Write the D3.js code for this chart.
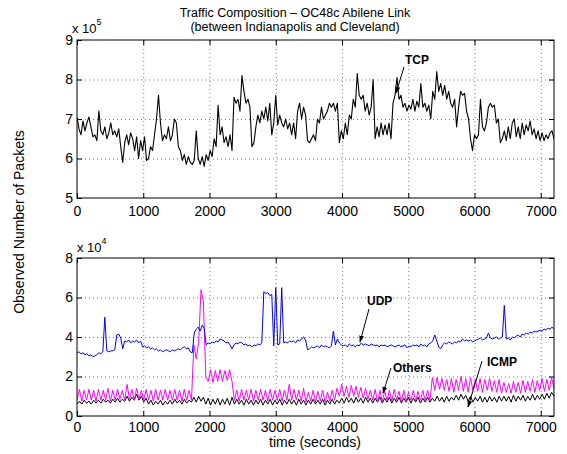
<!DOCTYPE html>
<html><head><meta charset="utf-8">
<script src="https://cdn.jsdelivr.net/npm/d3@7"></script>
<style>
body{margin:0;background:#fff;}
svg{font-family:"Liberation Sans",Arial,Helvetica,sans-serif;}
</style></head>
<body><svg id="c" width="567" height="454"></svg>
<script>
// ---------- data ----------
const xTicks = [0,1000,2000,3000,4000,5000,6000,7000];
const tcpTicks = [5,6,7,8,9];
const lowTicks = [0,2,4,6,8];
const tcpStep = 30;   // seconds between TCP samples (x 1e5 packets)
const tcp = [
7.05,6.75,6.6,6.95,6.7,6.9,7.05,6.8,6.55,6.6,
6.45,7.2,6.7,6.6,6.8,6.5,6.65,6.9,6.6,6.7,
6.55,6.75,6.3,5.9,6.4,6.6,6.35,6.65,6.5,6.2,
6.55,6.0,6.45,6.2,6.55,5.95,6.0,6.3,6.2,6.6,
7.0,7.6,6.9,6.45,6.6,6.5,6.8,6.45,6.6,7.0,
6.9,6.3,6.2,5.95,6.1,5.85,6.05,5.9,5.85,5.95,
6.7,6.0,5.85,6.05,5.8,6.1,5.95,6.2,6.05,6.5,
6.3,7.35,6.6,6.8,6.4,6.55,6.3,6.6,6.2,7.55,
7.4,7.5,7.2,8.1,7.7,7.4,7.5,7.3,6.3,6.4,
6.8,7.1,6.9,7.2,7.0,7.3,6.95,7.4,6.6,6.9,
7.6,6.85,7.1,6.9,6.8,7.0,6.75,6.9,6.6,6.9,
6.5,7.2,7.4,7.0,7.3,7.1,6.45,6.4,6.5,6.6,
6.45,7.0,6.9,7.3,7.0,7.1,7.2,7.4,7.3,7.4,
7.2,7.4,6.4,6.7,6.5,6.9,6.6,7.1,7.0,7.5,
7.3,8.15,7.6,7.5,7.6,7.2,7.4,7.1,7.3,8.0,
6.5,6.8,6.55,6.9,6.6,6.85,6.6,6.9,6.5,7.4,
7.6,8.05,7.5,7.6,7.3,7.4,7.2,7.35,7.25,7.5,
7.2,7.45,7.3,7.9,7.3,7.4,7.2,7.35,7.0,7.7,
7.5,8.2,7.7,7.9,7.6,7.85,7.5,7.7,7.4,7.3,
7.5,6.8,7.3,7.7,7.6,7.65,7.2,7.0,6.5,6.2,
6.6,6.5,6.6,7.5,6.8,6.7,6.9,7.3,7.4,7.3,
7.35,6.9,7.0,6.4,6.5,6.7,6.45,6.8,6.5,6.9,
7.0,6.55,6.8,6.5,6.9,6.6,6.85,6.7,6.95,6.6,
6.75,6.5,6.7,6.45,6.65,6.45,6.6,6.5,6.65,6.7,
6.5];
const udpStep = 30;   // x 1e4 packets
const udp = [
3.2,3.25,3.15,3.2,3.1,3.15,3.05,3.1,3.0,3.05,
3.1,3.2,3.15,3.25,5.0,3.3,3.25,3.3,3.3,3.35,
4.1,4.15,3.95,3.4,3.8,3.75,3.85,3.7,3.8,3.75,
3.85,3.7,3.8,3.5,3.55,3.45,3.5,3.4,3.45,3.35,
3.4,3.3,3.35,3.25,3.3,3.35,3.3,3.25,3.35,3.3,
3.35,3.4,3.35,3.45,3.5,3.4,3.45,3.25,3.2,4.2,
4.4,4.5,4.3,4.6,4.45,3.6,3.7,3.65,3.75,3.7,
3.8,3.75,3.9,3.85,3.8,3.7,3.75,3.6,3.4,3.6,
3.7,3.65,3.75,3.7,3.6,3.65,3.55,3.6,3.5,3.6,
3.55,3.65,3.6,3.7,6.3,6.2,6.25,6.1,6.15,3.55,
6.5,3.6,3.65,6.5,3.7,3.75,3.7,3.8,3.75,3.8,
3.7,3.85,3.8,3.9,4.0,3.85,3.35,3.4,3.5,3.45,
3.5,3.55,3.45,3.6,3.5,3.55,3.5,3.45,3.55,4.3,
3.6,3.9,3.7,3.6,3.55,3.6,3.5,3.65,3.55,3.6,
3.5,3.6,3.55,3.7,3.6,3.65,3.6,3.55,3.65,3.6,
3.55,3.6,3.5,3.6,3.55,3.6,3.5,3.55,3.6,3.55,
3.5,3.55,3.6,3.5,3.55,3.6,3.45,3.55,3.5,3.6,
3.55,3.6,3.5,3.65,3.55,3.6,3.5,3.65,3.7,3.8,
4.1,3.8,3.5,3.4,3.6,3.7,3.65,3.75,3.7,3.65,
3.75,3.7,3.8,3.75,3.9,3.8,3.85,3.8,3.85,3.75,
3.8,3.85,3.9,3.95,3.85,3.9,3.95,4.2,3.95,3.9,
3.95,4.0,3.9,3.95,4.0,5.6,3.9,3.95,3.85,4.0,
3.95,4.05,4.1,4.0,4.15,4.1,4.2,4.15,4.25,4.2,
4.3,4.25,4.3,4.35,4.3,4.4,4.35,4.45,4.4,4.5,
4.4];
const othStep = 36;   // x 1e4 packets
const others = [
0.8,1.35,0.75,1.3,0.8,1.35,0.8,1.3,0.75,1.35,
0.8,1.3,0.8,1.4,0.75,1.3,0.8,1.35,0.85,1.3,
0.8,1.6,0.85,1.35,0.8,1.4,0.85,1.3,0.8,1.35,
0.8,1.3,0.75,1.35,0.8,1.3,0.8,1.35,0.8,1.3,
0.8,1.35,0.8,1.3,0.75,1.35,0.8,1.3,0.8,3.6,
2.9,3.7,6.4,5.8,2.0,1.75,2.35,1.7,2.3,1.75,
2.35,1.75,2.3,1.8,2.35,1.75,0.8,1.3,0.75,1.35,
0.8,1.3,0.8,1.35,0.75,1.3,0.8,1.35,0.8,1.3,
0.75,1.35,0.8,1.3,0.8,1.35,0.75,1.3,0.8,1.6,
0.8,1.35,0.8,1.3,0.75,1.4,0.7,1.2,0.75,1.3,
0.7,1.25,0.75,1.3,0.7,1.2,0.75,1.3,0.8,1.4,
1.0,1.6,1.0,1.5,0.95,1.55,1.0,1.5,0.95,1.45,
0.9,1.4,0.85,1.3,0.8,1.35,0.7,1.3,0.75,1.25,
0.8,1.3,0.75,1.35,0.8,1.25,0.7,1.3,0.75,1.2,
0.8,1.3,0.75,1.25,0.8,1.3,0.75,1.3,0.8,1.95,
1.3,1.95,1.35,1.9,1.3,1.85,1.25,1.9,1.2,1.85,
1.3,2.0,1.25,1.9,1.2,1.95,1.3,1.85,1.25,1.9,
1.2,1.85,1.3,1.9,1.25,1.8,1.2,1.85,1.15,1.7,
1.2,1.65,1.15,1.75,1.2,1.7,1.15,1.8,1.2,1.75,
1.25,1.85,1.2,1.8,1.3,1.9,1.25,1.85,1.3,1.95,
1.4];
const icmpStep = 36;  // x 1e4 packets
const icmp = [
0.6,0.75,0.6,0.8,0.65,0.75,0.6,0.8,0.65,0.8,
0.65,0.85,0.7,0.8,0.65,0.85,0.7,0.9,0.7,0.85,
0.75,1.0,0.75,0.95,0.8,1.1,0.8,1.0,0.7,0.9,
0.6,0.8,0.55,0.75,0.6,0.8,0.55,0.75,0.6,0.8,
0.6,0.85,0.65,0.8,0.6,0.85,0.65,0.8,0.7,0.95,
0.7,1.0,0.75,0.95,0.6,0.9,0.55,0.85,0.6,0.9,
0.55,0.85,0.6,0.9,0.55,0.95,0.6,0.85,0.6,0.8,
0.55,0.85,0.6,0.8,0.55,0.8,0.6,0.85,0.55,0.8,
0.6,0.85,0.55,0.8,0.6,0.85,0.55,0.8,0.6,0.85,
0.6,0.8,0.55,0.85,0.6,0.8,0.55,0.8,0.6,0.85,
0.6,0.8,0.6,0.85,0.55,0.8,0.6,0.85,0.6,0.8,
0.65,0.9,0.65,0.95,0.7,0.9,0.65,0.95,0.7,0.9,
0.65,0.95,0.7,0.9,0.65,0.9,0.7,0.95,0.65,0.9,
0.7,0.95,0.65,0.9,0.7,0.95,0.65,0.9,0.7,0.95,
0.65,0.9,0.7,0.95,0.65,0.9,0.7,0.95,0.7,0.9,
0.75,1.0,0.75,0.95,0.7,1.0,0.75,0.95,0.8,1.05,
0.8,1.1,0.85,1.05,0.75,1.0,0.7,0.95,0.75,1.0,
0.7,0.95,0.7,1.0,0.75,0.95,0.7,1.0,0.75,1.0,
0.75,1.0,0.7,1.05,0.75,1.0,0.8,1.05,0.75,1.0,
0.8,1.1,0.8,1.05,0.85,1.1,0.85,1.15,0.9,1.2,
1.0];
const titleLines = ["Traffic Composition \u2013 OC48c Abilene Link","(between Indianapolis and Cleveland)"];

// ---------- layout ----------
const svg = d3.select("#c");
const L = 77, R = 554;
const top1 = 40, bot1 = 198, top2 = 258, bot2 = 416;
const x = d3.scaleLinear().domain([0,7200]).range([L,R]);
const y1 = d3.scaleLinear().domain([5,9]).range([bot1,top1]);
const y2 = d3.scaleLinear().domain([0,8]).range([bot2,top2]);
const fmt = d3.format("d");

svg.append("defs").append("marker").attr("id","ah")
  .attr("viewBox","0 0 10 10").attr("refX",9).attr("refY",5)
  .attr("markerWidth",7).attr("markerHeight",7).attr("orient","auto")
  .append("path").attr("d","M0,1.5L10,5L0,8.5Z").attr("fill","#000");

function panel(y, yt, yTop, yBot, series, xPad){
  const g = svg.append("g");
  // grid
  g.append("g").attr("transform",`translate(0,${yBot})`)
    .call(d3.axisBottom(x).tickValues(xTicks.filter(v=>v>0)).tickSize(-(yBot-yTop)).tickFormat(""))
    .call(s=>{s.select(".domain").remove();s.selectAll("line").attr("stroke","#555").attr("stroke-width",0.8).attr("stroke-dasharray","1,3");});
  g.append("g").attr("transform",`translate(${L},0)`)
    .call(d3.axisLeft(y).tickValues(yt.slice(1,-1)).tickSize(-(R-L)).tickFormat(""))
    .call(s=>{s.select(".domain").remove();s.selectAll("line").attr("stroke","#555").attr("stroke-width",0.8).attr("stroke-dasharray","1,3");});
  // data
  const clip = "clip"+yTop;
  svg.append("clipPath").attr("id",clip).append("rect").attr("x",L).attr("y",yTop).attr("width",R-L).attr("height",yBot-yTop);
  series.forEach(sr=>{
    g.append("path").datum(sr.vals)
      .attr("clip-path",`url(#${clip})`)
      .attr("fill","none").attr("stroke",sr.color).attr("stroke-width",sr.w||1)
      .attr("stroke-linejoin","round")
      .attr("d",d3.line().x((d,i)=>x(i*sr.step)).y(d=>y(d)));
  });
  // axes
  const fs = "14px";
  g.append("g").attr("transform",`translate(0,${yBot})`)
    .call(d3.axisBottom(x).tickValues(xTicks).tickSize(-5).tickPadding(xPad).tickFormat(fmt))
    .call(s=>{s.select(".domain").remove();s.selectAll("text").attr("font-size",fs).attr("font-family","Liberation Sans, Arial, sans-serif").attr("fill","#000");});
  g.append("g").attr("transform",`translate(0,${yTop})`)
    .call(d3.axisTop(x).tickValues(xTicks).tickSize(-5).tickFormat(""))
    .call(s=>s.select(".domain").remove());
  g.append("g").attr("transform",`translate(${L},0)`)
    .call(d3.axisLeft(y).tickValues(yt).tickSize(-5).tickPadding(4).tickFormat(fmt))
    .call(s=>{s.select(".domain").remove();s.selectAll("text").attr("font-size",fs).attr("font-family","Liberation Sans, Arial, sans-serif").attr("fill","#000");});
  g.append("g").attr("transform",`translate(${R},0)`)
    .call(d3.axisRight(y).tickValues(yt).tickSize(-5).tickFormat(""))
    .call(s=>s.select(".domain").remove());
  g.selectAll(".tick line").filter(function(){return !this.getAttribute("stroke-dasharray");}).attr("stroke","#000");
  g.append("rect").attr("x",L).attr("y",yTop).attr("width",R-L).attr("height",yBot-yTop)
    .attr("fill","none").attr("stroke","#000").attr("stroke-width",1);
}

panel(y1, tcpTicks, top1, bot1, [{vals:tcp, step:tcpStep, color:"#000", w:1.1}], 8);
panel(y2, lowTicks, top2, bot2, [
  {vals:icmp, step:icmpStep, color:"#000", w:1},
  {vals:others, step:othStep, color:"#ff00ff", w:1},
  {vals:udp, step:udpStep, color:"#0000ff", w:1}
], 6);

// exponent labels
function expo(xp, yb, e){
  const t = svg.append("text").attr("x",xp).attr("y",yb).attr("font-size","13px");
  t.append("tspan").text("x 10");
  t.append("tspan").attr("dy",-8).attr("font-size","9px").text(e);
}
expo(72, 33, "5");
expo(77, 252, "4");

// title
svg.selectAll(".title").data(titleLines).join("text")
  .attr("x",295).attr("y",(d,i)=>17+i*14).attr("text-anchor","middle")
  .attr("font-size","12.5px").text(d=>d);

// axis labels
svg.append("text").attr("x",315).attr("y",447).attr("text-anchor","middle").attr("font-size","14px").text("time (seconds)");
svg.append("text").attr("transform","translate(24,222) rotate(-90)").attr("text-anchor","middle").attr("font-size","14px").text("Observed Number of Packets");

// annotations
const notes = [
  {t:"TCP", tx:405, ty:64, x1:404, y1:67, x2:396, y2:93},
  {t:"UDP", tx:367, ty:305, x1:369, y1:309, x2:360, y2:342},
  {t:"Others", tx:393, ty:372, x1:391, y1:368, x2:383, y2:393},
  {t:"ICMP", tx:487, ty:366, x1:482, y1:361, x2:468, y2:407}
];
notes.forEach(n=>{
  svg.append("text").attr("x",n.tx).attr("y",n.ty).attr("font-size","12px").attr("font-weight","bold").text(n.t);
  svg.append("line").attr("x1",n.x1).attr("y1",n.y1).attr("x2",n.x2).attr("y2",n.y2)
    .attr("stroke","#000").attr("stroke-width",1).attr("marker-end","url(#ah)");
});
</script></body></html>
